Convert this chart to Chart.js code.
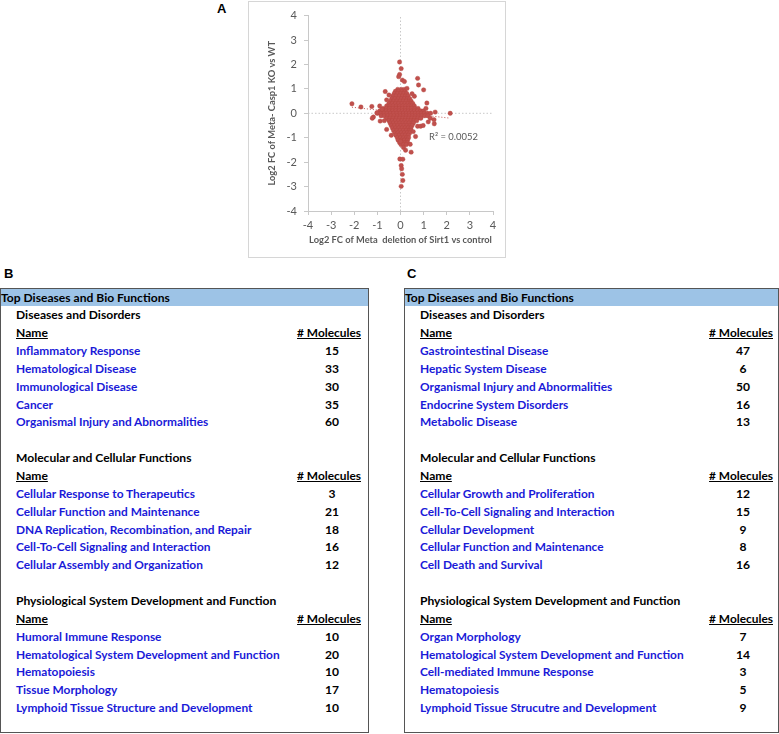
<!DOCTYPE html>
<html>
<head>
<meta charset="utf-8">
<script src="https://cdn.jsdelivr.net/npm/chart.js@4.4.1/dist/chart.umd.min.js"></script>
<style>
  html, body { margin: 0; padding: 0; background: #fff; }
  body { position: relative; width: 779px; height: 734px; overflow: hidden; font-family: "Lato", "Open Sans", sans-serif; }
  .panel { position: absolute; font: bold 13px "Liberation Sans", Arial, sans-serif; color: #000; }
  #chartBox { position: absolute; left: 248px; top: 1px; width: 256px; height: 255px; border: 1px solid #d6d6d6; }
  #chartBox canvas { position: absolute; left: 0; top: 0; }
  #r2 { position: absolute; left: 429px; top: 131px; color: #595959; font-size: 11px; white-space: nowrap; }
  .tbl { position: absolute; top: 288px; height: 445px; border: 1px solid #555; box-sizing: border-box; }
  .row { position: absolute; left: 0; right: 0; height: 17.85px; line-height: 17.85px; white-space: nowrap; }
  .band { background: #9dc3e6; }
  .txt { position: absolute; }
  .b { font-weight: 700; color: #000; }
  .u { text-decoration: underline; }
  .item { color: #1a1ad8; font-weight: 700; }
  .num { color: #000; text-align: center; width: 30px; font-weight: 700; }
</style>
</head>
<body>
<div class="panel" style="left:217px; top:1px;">A</div>
<div class="panel" style="left:4px; top:266px;">B</div>
<div class="panel" style="left:407px; top:266px;">C</div>

<div id="chartBox"><canvas id="scatter" width="256" height="255"></canvas></div>
<div id="r2">R² = 0.0052</div>

<div class="tbl" id="tblB" style="left:0px; width:369px;"></div>
<div class="tbl" id="tblC" style="left:404px; width:375px;"></div>

<script>
// ---------------- Panel A data (Log2 FC, Sirt1 deletion vs Casp1 KO) ----------------
const axisTicks = [-4, -3, -2, -1, 0, 1, 2, 3, 4];

// dense core of the cloud, read row by row (y level, x positions)
const coreRowY = [0.98, 0.9, 0.81, 0.71, 0.6, 0.5, 0.4, 0.3, 0.2, 0.1, 0.0, -0.1, -0.2, -0.3, -0.4, -0.5, -0.6, -0.7, -0.8, -0.9, -1.0, -1.1, -1.2, -1.28];
const coreRowX = [
  [-0.12, 0.03, 0.16],
  [-0.22, -0.08, 0.06, 0.19],
  [-0.27, -0.13, 0.01, 0.14, 0.27],
  [-0.33, -0.19, -0.05, 0.09, 0.22, 0.33],
  [-0.38, -0.24, -0.1, 0.04, 0.17, 0.3, 0.4],
  [-0.44, -0.3, -0.16, -0.02, 0.12, 0.25, 0.38, 0.46],
  [-0.5, -0.36, -0.22, -0.08, 0.06, 0.19, 0.32, 0.45, 0.53],
  [-0.6, -0.46, -0.32, -0.18, -0.04, 0.1, 0.23, 0.36, 0.49, 0.6],
  [-0.75, -0.61, -0.47, -0.33, -0.19, -0.05, 0.09, 0.22, 0.35, 0.48, 0.62, 0.76],
  [-0.9, -0.76, -0.62, -0.48, -0.34, -0.2, -0.06, 0.08, 0.21, 0.34, 0.47, 0.6, 0.74, 0.88, 1.0],
  [-1.0, -0.86, -0.72, -0.58, -0.44, -0.3, -0.16, -0.02, 0.12, 0.25, 0.38, 0.51, 0.64, 0.77, 0.9, 1.03, 1.16, 1.3],
  [-0.84, -0.7, -0.56, -0.42, -0.28, -0.14, 0.0, 0.13, 0.26, 0.39, 0.52, 0.65, 0.78, 0.91, 1.05, 1.18],
  [-0.6, -0.46, -0.32, -0.18, -0.04, 0.1, 0.23, 0.36, 0.49, 0.62, 0.75, 0.88],
  [-0.5, -0.36, -0.22, -0.08, 0.06, 0.19, 0.32, 0.45, 0.58, 0.7],
  [-0.45, -0.31, -0.17, -0.03, 0.11, 0.24, 0.37, 0.5, 0.56],
  [-0.4, -0.26, -0.12, 0.02, 0.15, 0.28, 0.41, 0.5],
  [-0.35, -0.21, -0.07, 0.07, 0.2, 0.33, 0.45],
  [-0.3, -0.16, -0.02, 0.12, 0.25, 0.38, 0.45],
  [-0.25, -0.11, 0.03, 0.16, 0.29, 0.4],
  [-0.2, -0.06, 0.08, 0.21, 0.34],
  [-0.14, 0.0, 0.13, 0.26, 0.35],
  [-0.1, 0.04, 0.17, 0.3],
  [-0.04, 0.09, 0.22, 0.3],
  [0.02, 0.14, 0.25]
];

// scattered genes outside the core
const outlierPoints = [
  [-2.1, 0.39], [-1.71, 0.26], [-1.24, 0.28], [-1.17, -0.15], [-1.22, -0.2], [-0.88, -0.32],
  [-0.66, 0.89], [-0.6, 0.55], [-0.6, -0.66], [-0.8, 0.17], [-1.02, 0.02], [-0.9, 0.3], [-0.7, -0.3],
  [-0.5, 0.75], [-0.4, -0.9],
  [-0.04, 2.1], [0.03, 1.83], [-0.04, 1.59], [-0.08, 1.5], [0.08, 1.36], [0.17, 1.3], [0.28, 1.02],
  [0.74, 1.43], [0.78, 1.16], [1.0, 0.96], [1.14, 0.42], [1.5, 0.05], [2.15, 0.0], [1.1, 0.2],
  [0.6, 0.7], [0.5, 0.8],
  [1.45, -0.26], [1.46, -0.43], [1.29, -0.2], [1.2, -0.35], [0.74, -0.53], [0.87, -0.53], [0.98, -0.5],
  [0.55, -0.75], [0.65, -0.95],
  [0.42, -1.27], [0.0, -1.15], [0.13, -1.4], [0.22, -1.51], [0.46, -1.59],
  [-0.03, -1.87], [0.1, -1.88], [0.03, -2.14], [0.05, -2.27], [0.08, -2.5], [0.1, -2.75], [0.03, -2.99]
];

// linear trend line end points (R² = 0.0052)
const trendPoints = [[-2.1, 0.25], [2.15, -0.2]];

// ---------------- Panels B and C data ----------------
const sectionTitles = ["Diseases and Disorders", "Molecular and Cellular Functions", "Physiological System Development and Function"];

const bDiseaseNames = ["Inflammatory Response", "Hematological Disease", "Immunological Disease", "Cancer", "Organismal Injury and Abnormalities"];
const bDiseaseCounts = [15, 33, 30, 35, 60];
const bMolecularNames = ["Cellular Response to Therapeutics", "Cellular Function and Maintenance", "DNA Replication, Recombination, and Repair", "Cell-To-Cell Signaling and Interaction", "Cellular Assembly and Organization"];
const bMolecularCounts = [3, 21, 18, 16, 12];
const bPhysioNames = ["Humoral Immune Response", "Hematological System Development and Function", "Hematopoiesis", "Tissue Morphology", "Lymphoid Tissue Structure and Development"];
const bPhysioCounts = [10, 20, 10, 17, 10];

const cDiseaseNames = ["Gastrointestinal Disease", "Hepatic System Disease", "Organismal Injury and Abnormalities", "Endocrine System Disorders", "Metabolic Disease"];
const cDiseaseCounts = [47, 6, 50, 16, 13];
const cMolecularNames = ["Cellular Growth and Proliferation", "Cell-To-Cell Signaling and Interaction", "Cellular Development", "Cellular Function and Maintenance", "Cell Death and Survival"];
const cMolecularCounts = [12, 15, 9, 8, 16];
const cPhysioNames = ["Organ Morphology", "Hematological System Development and Function", "Cell-mediated Immune Response", "Hematopoiesis", "Lymphoid Tissue Strucutre and Development"];
const cPhysioCounts = [7, 14, 3, 5, 9];

// ---------------- font fitting ----------------
const FAMILY = '"Lato", "Open Sans", sans-serif';
function fitSize(text, weight, target) {
  const c = document.createElement('canvas').getContext('2d');
  c.font = weight + ' 100px ' + FAMILY;
  return 100 * target / c.measureText(text).width;
}
const itemSize = fitSize("Hematological System Development and Function", 700, 264);
const boldSize = fitSize("Top Diseases and Bio Functions", 700, 169);
const r2Size = fitSize("R² = 0.0052", 400, 49);
document.getElementById('r2').style.fontSize = r2Size.toFixed(2) + 'px';

// ---------------- tables ----------------
const ROW_H = 17.85;
function buildTable(el, groups, opts) {
  const rows = [];
  rows.push({type: 'header', text: 'Top Diseases and Bio Functions'});
  groups.forEach((g, gi) => {
    rows.push({type: 'section', text: sectionTitles[gi]});
    rows.push({type: 'colhead'});
    g.names.forEach((n, i) => rows.push({type: 'item', text: n, count: g.counts[i]}));
    if (gi < groups.length - 1) rows.push({type: 'blank'});
  });
  rows.forEach((r, k) => {
    const row = document.createElement('div');
    row.className = 'row';
    row.style.top = (k * ROW_H - 0.5) + 'px';
    if (r.type === 'header') {
      row.classList.add('band');
      const t = document.createElement('span');
      t.className = 'txt b';
      t.style.left = '0px';
      t.style.fontSize = boldSize + 'px';
      t.textContent = r.text;
      row.appendChild(t);
    } else if (r.type === 'section') {
      const t = document.createElement('span');
      t.className = 'txt b';
      t.style.left = opts.indent + 'px';
      t.style.fontSize = boldSize + 'px';
      t.textContent = r.text;
      row.appendChild(t);
    } else if (r.type === 'colhead') {
      const a = document.createElement('span');
      a.className = 'txt b u';
      a.style.left = opts.indent + 'px';
      a.style.fontSize = boldSize + 'px';
      a.textContent = 'Name';
      const m = document.createElement('span');
      m.className = 'txt b u';
      m.style.right = opts.rightPad + 'px';
      m.style.fontSize = itemSize + 'px';
      m.textContent = '# Molecules';
      row.appendChild(a); row.appendChild(m);
    } else if (r.type === 'item') {
      const a = document.createElement('span');
      a.className = 'txt item';
      a.style.left = opts.indent + 'px';
      a.style.fontSize = itemSize + 'px';
      a.textContent = r.text;
      const n = document.createElement('span');
      n.className = 'txt num';
      n.style.left = (opts.numCenter - 15) + 'px';
      n.style.fontSize = boldSize + 'px';
      n.textContent = String(r.count);
      row.appendChild(a); row.appendChild(n);
    }
    el.appendChild(row);
  });
}
buildTable(document.getElementById('tblB'), [
  {names: bDiseaseNames, counts: bDiseaseCounts},
  {names: bMolecularNames, counts: bMolecularCounts},
  {names: bPhysioNames, counts: bPhysioCounts}
], {indent: 15, rightPad: 7, numCenter: 331});
buildTable(document.getElementById('tblC'), [
  {names: cDiseaseNames, counts: cDiseaseCounts},
  {names: cMolecularNames, counts: cMolecularCounts},
  {names: cPhysioNames, counts: cPhysioCounts}
], {indent: 15, rightPad: 5, numCenter: 338});

// ---------------- scatter chart ----------------
const genePoints = [];
coreRowY.forEach((y, i) => coreRowX[i].forEach(x => genePoints.push({x: x, y: y})));
outlierPoints.forEach(p => genePoints.push({x: p[0], y: p[1]}));

const axisMin = axisTicks[0], axisMax = axisTicks[axisTicks.length - 1];
const gray = '#595959';
const lineGray = '#c8c8c8';

new Chart(document.getElementById('scatter'), {
  type: 'scatter',
  data: {
    datasets: [
      {
        data: genePoints,
        backgroundColor: '#c0504d',
        borderColor: '#b5473f',
        borderWidth: 0.4,
        pointRadius: 2.2
      },
      {
        type: 'line',
        data: trendPoints.map(p => ({x: p[0], y: p[1]})),
        borderColor: '#c0504d',
        borderWidth: 1,
        borderDash: [1, 2],
        pointRadius: 0,
        fill: false
      },
      {
        type: 'line',
        data: [{x: 0, y: axisMin}, {x: 0, y: axisMax}],
        borderColor: lineGray,
        borderWidth: 1,
        borderDash: [1.5, 2],
        pointRadius: 0,
        fill: false
      },
      {
        type: 'line',
        data: [{x: axisMin, y: 0}, {x: axisMax, y: 0}],
        borderColor: lineGray,
        borderWidth: 1,
        borderDash: [1.5, 2],
        pointRadius: 0,
        fill: false
      }
    ]
  },
  options: {
    responsive: false,
    animation: false,
    events: [],
    layout: {padding: {top: 11, right: 12, left: 0, bottom: 0}},
    plugins: {legend: {display: false}, tooltip: {enabled: false}},
    scales: {
      x: {
        type: 'linear', min: axisMin, max: axisMax,
        afterBuildTicks: s => { s.ticks = axisTicks.map(v => ({value: v})); },
        afterFit: s => { s.height = 46; },
        ticks: {color: gray, padding: 4, font: {family: FAMILY, size: 11}},
        grid: {display: true, drawOnChartArea: false, drawTicks: true, tickLength: 4, color: lineGray},
        border: {display: true, color: lineGray},
        title: {display: true, text: 'Log2 FC of Meta  deletion of Sirt1 vs control', color: gray,
                font: {family: FAMILY, size: 9.3, weight: 'bold'}, padding: {top: 0, bottom: 11}}
      },
      y: {
        type: 'linear', min: axisMin, max: axisMax,
        afterBuildTicks: s => { s.ticks = axisTicks.map(v => ({value: v})); },
        afterFit: s => { s.width = 59; },
        ticks: {color: gray, padding: 7, font: {family: FAMILY, size: 11}},
        grid: {display: true, drawOnChartArea: false, drawTicks: true, tickLength: 4, color: lineGray},
        border: {display: true, color: lineGray},
        title: {display: true, text: 'Log2 FC of Meta- Casp1 KO vs WT', color: gray,
                font: {family: FAMILY, size: 9.3, weight: 'bold'}, padding: {top: 17, bottom: 0}}
      }
    }
  }
});
</script>
</body>
</html>
